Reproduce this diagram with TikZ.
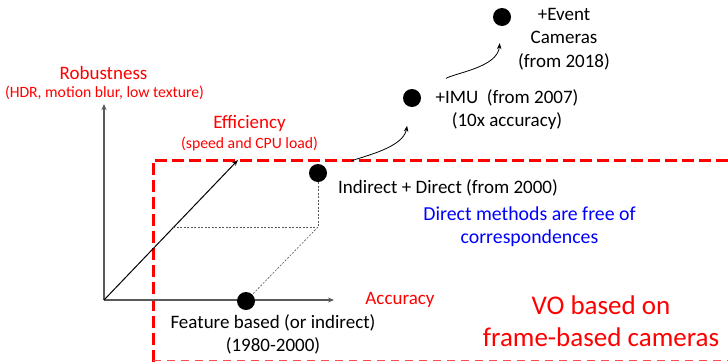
\documentclass[tikz,border=0pt]{standalone}
\usepackage{fontspec}
\setmainfont{Carlito}
\usetikzlibrary{arrows.meta,positioning}

\definecolor{vored}{RGB}{255,0,0}
\definecolor{voblue}{RGB}{0,0,255}
\definecolor{axisgray}{RGB}{89,89,89}

\tikzset{
    dot/.style={circle, fill=black, inner sep=0pt, minimum size=18pt},
    axis/.style={draw=axisgray, line width=1.6pt, -{Stealth[length=6pt,width=5pt]}},
    arr/.style={draw=black, line width=0.8pt, -{Stealth[length=6pt,width=4.5pt]}},
    guide/.style={draw=axisgray, line width=0.6pt, dash pattern=on 2pt off 1.5pt},
    frame/.style={draw=vored, line width=3pt, dash pattern=on 12pt off 5pt},
    title/.style={text=vored, font=\fontsize{19}{22}\selectfont, inner sep=0pt},
    sub/.style={text=vored, font=\fontsize{15.7}{18}\selectfont, inner sep=0pt},
    lbl/.style={font=\fontsize{19}{23}\selectfont, inner sep=0pt, align=center}
}

\begin{document}
\begin{tikzpicture}[x=1pt, y=-1pt]
    \useasboundingbox (0,0) rectangle (728,362);

    % Frame
    \draw[frame] (153,362) -- (153,160) -- (740,160);
    \draw[draw=vored!70, line width=1pt, dash pattern=on 8pt off 6pt] (153,360.5) -- (740,360.5);

    % Axes
    \coordinate (origin) at (104,300);
    \coordinate (robtip) at (104,104);
    \coordinate (acctip) at (334,300);
    \coordinate (efftip) at (238,160);
    \draw[axis] (origin) -- (robtip);
    \draw[axis] (origin) -- (acctip);
    \draw[arr, line width=1pt] (origin) -- (efftip);

    % Nodes
    \node[dot] (feature) at (246,301) {};
    \node[dot] (direct) at (318,173) {};
    \node[dot] (imu) at (412,98) {};
    \node[dot] (event) at (502,17) {};
    \coordinate (corner) at (318,227);
    \coordinate (diag) at (173,227);

    % Guides
    \draw[guide] (direct) -- (corner);
    \draw[guide] (diag) -- (corner);
    \draw[guide] (corner) -- (feature);

    % Arrows
    \draw[arr, shorten <=26pt, shorten >=19pt] (direct) to[out=20, in=-100] (imu);
    \draw[arr, shorten <=30pt, shorten >=17pt] (imu) to[out=30, in=-95] (event);

    % Labels
    \node[title] (robust) at (103.5,73) {Robustness};
    \node[sub] (robustsub) at (104.5,93) {(HDR, motion blur, low texture)};
    \node[title] (effic) at (249.5,123) {Efficiency};
    \node[sub] (efficsub) at (249.5,144) {(speed and CPU load)};
    \node[title] (accur) at (400,300) {Accuracy};
    \node[lbl, anchor=west] (directlbl) at (338,188) {Indirect + Direct (from 2000)};
    \node[lbl, text=voblue, font=\fontsize{19.8}{23}\selectfont] (note) at (529.5,226.5)
        {Direct methods are free of\\correspondences};
    \node[lbl] (featlbl) at (273,334.5) {Feature based (or indirect)\\(1980-2000)};
    \node[lbl] (imulbl) at (507,110) {+IMU\ \ (from 2007)\\(10x accuracy)};
    \node[lbl, font=\fontsize{19}{23.5}\selectfont] (eventlbl) at (564,39) {+Event\\Cameras\\(from 2018)};
    \node[lbl, text=vored, font=\fontsize{27}{32}\selectfont] (volbl) at (601,321) {VO based on\\frame-based cameras};
\end{tikzpicture}
\end{document}
